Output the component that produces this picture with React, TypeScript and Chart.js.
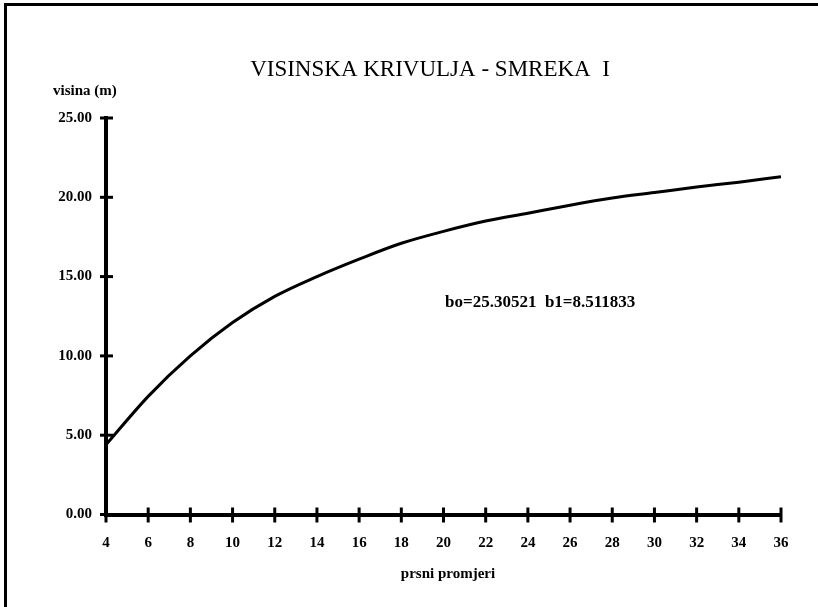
import React, { useEffect, useRef } from "react";
import { Chart, registerables } from "chart.js";

Chart.register(...registerables);

const titleText = "VISINSKA KRIVULJA - SMREKA  I";
const yAxisTitle = "visina (m)";
const xAxisTitle = "prsni promjeri";
const annotationText = "bo=25.30521  b1=8.511833";

const diameters = [4, 6, 8, 10, 12, 14, 16, 18, 20, 22, 24, 26, 28, 30, 32, 34, 36];
const heights = [4.4, 7.45, 10.0, 12.1, 13.75, 15.0, 16.1, 17.1, 17.85, 18.5, 19.0, 19.5, 19.95, 20.3, 20.65, 20.95, 21.3];

const yTicks = [0, 5, 10, 15, 20, 25];
const xTicks = [4, 6, 8, 10, 12, 14, 16, 18, 20, 22, 24, 26, 28, 30, 32, 34, 36];

const SERIF = "'Liberation Serif', 'DejaVu Serif', serif";

const decorPlugin = {
  id: "decor",
  afterDraw(chart: any) {
    const ctx = chart.ctx as CanvasRenderingContext2D;
    const xs = chart.scales.x;
    const ys = chart.scales.y;
    const area = chart.chartArea;
    ctx.save();
    ctx.strokeStyle = "#000";
    ctx.fillStyle = "#000";
    // tick marks on x axis
    ctx.lineWidth = 3;
    for (const t of xTicks) {
      const px = xs.getPixelForValue(t);
      ctx.beginPath();
      ctx.moveTo(px, area.bottom - 7);
      ctx.lineTo(px, area.bottom + 8);
      ctx.stroke();
    }
    // tick marks on y axis
    ctx.lineWidth = 3;
    for (const t of yTicks) {
      const py = ys.getPixelForValue(t);
      ctx.beginPath();
      ctx.moveTo(area.left - 6, py);
      ctx.lineTo(area.left + 7, py);
      ctx.stroke();
    }
    // frame lines (top and left)
    ctx.lineWidth = 3;
    ctx.beginPath();
    ctx.moveTo(4, 4.5);
    ctx.lineTo(818, 4.5);
    ctx.moveTo(5.5, 4);
    ctx.lineTo(5.5, 607);
    ctx.stroke();
    // texts
    ctx.textBaseline = "middle";
    ctx.textAlign = "center";
    ctx.font = `23px ${SERIF}`;
    ctx.fillText(titleText, 430, 70);
    ctx.textAlign = "left";
    ctx.font = `bold 15px ${SERIF}`;
    ctx.fillText(yAxisTitle, 53, 91);
    ctx.font = `bold 17px ${SERIF}`;
    ctx.fillText(annotationText, 445, 303);
    ctx.textAlign = "center";
    ctx.font = `bold 15px ${SERIF}`;
    ctx.fillText(xAxisTitle, 448, 574);
    ctx.restore();
  },
};

export default function App() {
  const canvasRef = useRef<HTMLCanvasElement | null>(null);

  useEffect(() => {
    document.body.style.margin = "0";
    const canvas = canvasRef.current;
    if (!canvas) return;
    const chart = new Chart(canvas, {
      type: "line",
      data: {
        datasets: [
          {
            data: diameters.map((d, i) => ({ x: d, y: heights[i] })),
            borderColor: "#000",
            borderWidth: 3,
            pointRadius: 0,
            cubicInterpolationMode: "monotone",
            fill: false,
          },
        ],
      },
      options: {
        animation: false,
        responsive: false,
        maintainAspectRatio: false,
        devicePixelRatio: 1,
        layout: { padding: { left: 0, right: 37, top: 118, bottom: 0 } },
        plugins: {
          legend: { display: false },
          tooltip: { enabled: false },
          title: { display: false },
        },
        scales: {
          x: {
            type: "linear",
            min: 4,
            max: 36,
            afterFit(scale: any) {
              scale.height = 92.5;
            },
            afterBuildTicks(scale: any) {
              scale.ticks = xTicks.map((v) => ({ value: v }));
            },
            grid: { display: false },
            border: { display: true, color: "#000", width: 4 },
            ticks: {
              padding: 12,
              color: "#000",
              font: { family: SERIF, size: 15, weight: "bold" },
              maxRotation: 0,
              autoSkip: false,
              callback: (v: any) => String(v),
            },
          },
          y: {
            type: "linear",
            min: 0,
            max: 25,
            afterFit(scale: any) {
              scale.width = 106;
            },
            afterBuildTicks(scale: any) {
              scale.ticks = yTicks.map((v) => ({ value: v }));
            },
            grid: { display: false },
            border: { display: true, color: "#000", width: 4 },
            ticks: {
              padding: 6,
              color: "#000",
              font: { family: SERIF, size: 15, weight: "bold" },
              autoSkip: false,
              callback: (v: any) => Number(v).toFixed(2),
            },
          },
        },
      } as any,
      plugins: [decorPlugin],
    });
    return () => chart.destroy();
  }, []);

  return (
    <div style={{ width: 818, height: 607, background: "#fff" }}>
      <canvas ref={canvasRef} width={818} height={607} style={{ display: "block", width: 818, height: 607 }} />
    </div>
  );
}
